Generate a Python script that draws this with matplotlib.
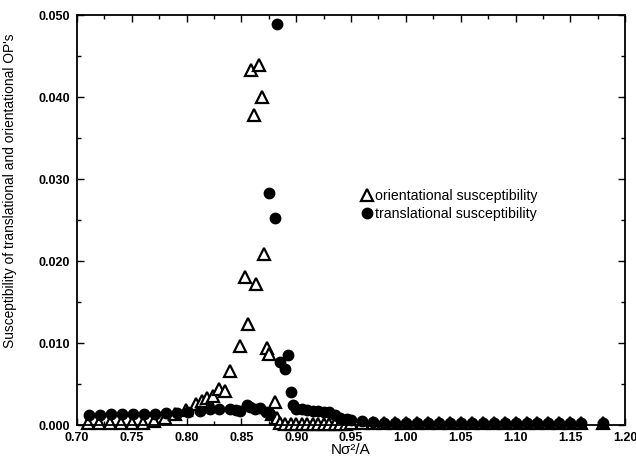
import matplotlib
matplotlib.use("Agg")
import matplotlib.pyplot as plt
from matplotlib.ticker import MultipleLocator, FormatStrFormatter

plt.rcParams['font.family'] = ['Liberation Sans', 'DejaVu Sans']

# orientational susceptibility (open triangles)
orient_x = [0.710, 0.720, 0.730, 0.740, 0.750, 0.760, 0.770, 0.780, 0.789, 0.799,
            0.809, 0.814, 0.819, 0.8245, 0.830, 0.835, 0.8396, 0.8487, 0.8536, 0.8557,
            0.8585, 0.8615, 0.8633, 0.8663, 0.8685, 0.8709, 0.8731, 0.8755, 0.8780, 0.8807,
            0.882, 0.885, 0.890, 0.895, 0.900, 0.905, 0.910, 0.915, 0.920, 0.925,
            0.930, 0.935, 0.940, 0.945, 0.950, 0.960, 0.970, 0.980, 0.990, 1.000,
            1.010, 1.020, 1.030, 1.040, 1.050, 1.060, 1.070, 1.080, 1.090, 1.100,
            1.110, 1.120, 1.130, 1.140, 1.150, 1.160, 1.180]
orient_y = [0.0002, 0.0002, 0.0002, 0.0002, 0.0003, 0.0003, 0.0005, 0.0009, 0.0014, 0.0018,
            0.0026, 0.0029, 0.0033, 0.0035, 0.0044, 0.0042, 0.0066, 0.0096, 0.0181, 0.0123,
            0.0433, 0.0378, 0.0172, 0.0439, 0.0400, 0.0209, 0.0094, 0.0087, 0.0014, 0.0028,
            0.0008, 0.0002, 0.0001, 0.0001, 0.0001, 0.0001, 0.0001, 0.0001, 0.0001, 0.0001,
            0.0001, 0.0001, 0.0001, 0.0001, 0.0003, 0.0003, 0.0003, 0.0003, 0.0003, 0.0003,
            0.0003, 0.0003, 0.0003, 0.0003, 0.0003, 0.0003, 0.0003, 0.0003, 0.0003, 0.0003,
            0.0003, 0.0003, 0.0003, 0.0003, 0.0003, 0.0003, 0.0003]

# translational susceptibility (filled circles)
trans_x = [0.711, 0.721, 0.731, 0.741, 0.751, 0.761, 0.771, 0.781, 0.791, 0.801,
           0.812, 0.821, 0.830, 0.840, 0.845, 0.849, 0.855, 0.858, 0.862, 0.867,
           0.872, 0.876, 0.8755, 0.8807, 0.8828, 0.8852, 0.8898, 0.8922, 0.895, 0.897,
           0.900, 0.905, 0.910, 0.915, 0.920, 0.925, 0.930, 0.935, 0.940, 0.946,
           0.950, 0.960, 0.970, 0.980, 0.990, 1.000, 1.010, 1.020, 1.030, 1.040,
           1.050, 1.060, 1.070, 1.080, 1.090, 1.100, 1.110, 1.120, 1.130, 1.140,
           1.150, 1.160, 1.180]
trans_y = [0.0012, 0.0012, 0.0013, 0.0013, 0.0013, 0.0013, 0.0014, 0.0015, 0.0015, 0.0016,
           0.0017, 0.0019, 0.0019, 0.0019, 0.0018, 0.0017, 0.0024, 0.0022, 0.0020, 0.0021,
           0.0016, 0.0013, 0.0283, 0.0253, 0.0489, 0.0077, 0.0068, 0.0085, 0.0040, 0.0024,
           0.0020, 0.0019, 0.0018, 0.0017, 0.0017, 0.0016, 0.0016, 0.0012, 0.0009, 0.0007,
           0.0006, 0.0005, 0.0004, 0.0003, 0.0003, 0.0003, 0.0003, 0.0003, 0.0003, 0.0003,
           0.0003, 0.0003, 0.0003, 0.0003, 0.0003, 0.0003, 0.0003, 0.0003, 0.0003, 0.0003,
           0.0003, 0.0003, 0.0002]

fig = plt.figure(figsize=(6.36, 4.63), dpi=100)
ax = fig.add_axes([0.121, 0.082, 0.862, 0.8856])

ax.plot(orient_x, orient_y, linestyle='none', marker='^', markersize=8,
        markerfacecolor='white', markeredgecolor='black', markeredgewidth=1.6,
        label='orientational susceptibility', clip_on=False, zorder=2)
ax.plot(trans_x, trans_y, linestyle='none', marker='o', markersize=7.5,
        color='black', label='translational susceptibility', clip_on=False, zorder=3)

ax.set_xlim(0.70, 1.20)
ax.set_ylim(0.0, 0.050)
ax.xaxis.set_major_locator(MultipleLocator(0.05))
ax.xaxis.set_minor_locator(MultipleLocator(0.025))
ax.yaxis.set_major_locator(MultipleLocator(0.010))
ax.yaxis.set_minor_locator(MultipleLocator(0.005))
ax.xaxis.set_major_formatter(FormatStrFormatter('%.2f'))
ax.yaxis.set_major_formatter(FormatStrFormatter('%.3f'))

ax.tick_params(which='both', direction='in', top=True, right=True, width=1.0)
ax.tick_params(which='major', length=5, labelsize=9, pad=5)
ax.tick_params(which='minor', length=3)
for lab in ax.get_xticklabels() + ax.get_yticklabels():
    lab.set_fontweight('bold')
for s in ax.spines.values():
    s.set_linewidth(1.3)

ax.set_xlabel('Nσ²/A', fontsize=11, labelpad=-1)
ax.set_ylabel("Susceptibility of translational and orientational OP's", fontsize=9.9)
ax.yaxis.set_label_coords(-0.109, 0.571)

ax.legend(loc='upper left', bbox_to_anchor=(0.506, 0.59), frameon=False,
          fontsize=10.2, handletextpad=0.05, borderaxespad=0, labelspacing=0.3,
          handlelength=1.0)

fig.savefig('out.png', dpi=100)
